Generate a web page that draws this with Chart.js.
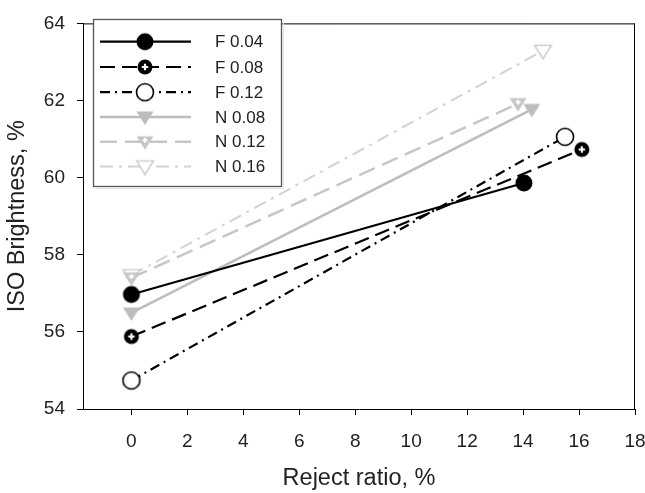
<!DOCTYPE html>
<html><head><meta charset="utf-8">
<script src="https://cdn.jsdelivr.net/npm/chart.js@4/dist/chart.umd.min.js"></script>
<style>html,body{margin:0;padding:0;overflow:hidden;background:#fff;width:645px;height:493px}canvas{display:block}</style>
</head><body>
<canvas id="c" width="700" height="493" style="width:700px;height:493px"></canvas>
<script>
// ---- data ----
const seriesNames = ['F 0.04', 'F 0.08', 'F 0.12', 'N 0.08', 'N 0.12', 'N 0.16'];
const f004X = [0, 14.03];  const f004Y = [56.97, 59.86];
const f008X = [0, 16.1];   const f008Y = [55.88, 60.73];
const f012X = [0, 15.5];   const f012Y = [54.74, 61.06];
const n008X = [0, 14.31];  const n008Y = [56.49, 61.77];
const n012X = [0, 13.82];  const n012Y = [57.40, 61.92];
const n016X = [0, 14.71];  const n016Y = [57.47, 63.29];
const xTicks = [0, 2, 4, 6, 8, 10, 12, 14, 16, 18];
const yTicks = [54, 56, 58, 60, 62, 64];
const xTitle = 'Reject ratio, %';
const yTitle = 'ISO Brightness, %';

// ---- marker images ----
function makeMarker(kind, color) {
  const s = 24, m = s / 2;
  const c = document.createElement('canvas');
  c.width = s; c.height = s;
  const g = c.getContext('2d');
  const tri = () => { g.beginPath(); g.moveTo(m - 8.5, m - 5.5); g.lineTo(m + 8.5, m - 5.5); g.lineTo(m, m + 8); g.closePath(); };
  const plus = (cx, cy, a, w) => { g.strokeStyle = '#fff'; g.lineWidth = w; g.beginPath(); g.moveTo(cx - a, cy); g.lineTo(cx + a, cy); g.moveTo(cx, cy - a); g.lineTo(cx, cy + a); g.stroke(); };
  if (kind === 'filledCircle') { g.fillStyle = color; g.beginPath(); g.arc(m, m, 8.5, 0, Math.PI * 2); g.fill(); }
  if (kind === 'plusCircle') { g.fillStyle = color; g.beginPath(); g.arc(m, m, 7.5, 0, Math.PI * 2); g.fill(); plus(m, m, 3.2, 2.2); }
  if (kind === 'openCircle') { g.fillStyle = '#fff'; g.strokeStyle = color; g.lineWidth = 1.6; g.beginPath(); g.arc(m, m, 8.5, 0, Math.PI * 2); g.fill(); g.stroke(); }
  if (kind === 'filledTri') { g.fillStyle = color; tri(); g.fill(); }
  if (kind === 'plusTri') { g.fillStyle = color; tri(); g.fill(); plus(m, m - 1.5, 2.5, 1.8); }
  if (kind === 'openTri') { g.fillStyle = '#fff'; g.strokeStyle = color; g.lineWidth = 1.6; tri(); g.fill(); g.stroke(); }
  return c;
}

const styles = [
  { color: '#000000', width: 2.2, dash: [], marker: makeMarker('filledCircle', '#000') },
  { color: '#000000', width: 2.2, dash: [15, 7], marker: makeMarker('plusCircle', '#000') },
  { color: '#000000', width: 2.2, dash: [10, 5, 2, 5], marker: makeMarker('openCircle', '#000') },
  { color: '#bdbdbd', width: 2.5, dash: [], marker: makeMarker('filledTri', '#bdbdbd') },
  { color: '#c6c6c6', width: 2.5, dash: [17, 8], marker: makeMarker('plusTri', '#c6c6c6') },
  { color: '#d2d2d2', width: 2.0, dash: [13, 6, 3, 6], marker: makeMarker('openTri', '#cfcfcf') }
];
const xs = [f004X, f008X, f012X, n008X, n012X, n016X];
const ys = [f004Y, f008Y, f012Y, n008Y, n012Y, n016Y];

const datasets = seriesNames.map((name, i) => ({
  label: name,
  data: xs[i].map((x, j) => ({ x: x, y: ys[i][j] })),
  showLine: true,
  borderColor: styles[i].color,
  backgroundColor: styles[i].color,
  borderWidth: styles[i].width,
  borderDash: styles[i].dash,
  pointStyle: styles[i].marker,
  pointRadius: 9,
  pointHoverRadius: 9,
  clip: false
}));

const FONT = "'Liberation Sans', Arial, sans-serif";

const frame = {
  id: 'frame',
  afterDatasetsDraw(chart) {
    const { ctx, chartArea: a } = chart;
    ctx.save();
    ctx.strokeStyle = '#000'; ctx.lineWidth = 1;
    ctx.beginPath();
    ctx.moveTo(a.left, a.top + 0.5); ctx.lineTo(a.right, a.top + 0.5);
    ctx.moveTo(a.right - 0.5, a.top); ctx.lineTo(a.right - 0.5, a.bottom);
    ctx.stroke();
    // legend
    const bx = 93, by = 19, bw = 188, bh = 167;
    ctx.fillStyle = '#fff';
    ctx.fillRect(bx, by, bw, bh);
    ctx.strokeStyle = '#555'; ctx.lineWidth = 1.3;
    ctx.strokeRect(bx + 0.5, by + 0.5, bw, bh);
    ctx.strokeStyle = '#e4e4e4'; ctx.lineWidth = 1;
    ctx.beginPath(); ctx.moveTo(bx + 3, by + bh + 2.5); ctx.lineTo(bx + bw + 2.5, by + bh + 2.5); ctx.lineTo(bx + bw + 2.5, by + 3); ctx.stroke();
    const rowY = [41.7, 67.0, 92.2, 117.0, 141.8, 166.5];
    chart.data.datasets.forEach((ds, i) => {
      const y = rowY[i];
      ctx.save();
      ctx.strokeStyle = ds.borderColor; ctx.lineWidth = ds.borderWidth;
      ctx.setLineDash(ds.borderDash);
      ctx.beginPath(); ctx.moveTo(100, y); ctx.lineTo(191, y); ctx.stroke();
      ctx.restore();
      const img = ds.pointStyle;
      ctx.drawImage(img, 145 - img.width / 2, y - img.height / 2);
      ctx.fillStyle = '#222';
      ctx.font = '17px ' + FONT;
      ctx.textBaseline = 'middle'; ctx.textAlign = 'left';
      ctx.fillText(ds.label, 215, y + 1);
    });
    ctx.restore();
  }
};

new Chart(document.getElementById('c'), {
  type: 'scatter',
  data: { datasets },
  options: {
    responsive: false,
    animation: false,
    events: [],
    layout: { padding: { left: 0, top: 15, right: 65, bottom: 0 } },
    plugins: { legend: { display: false }, tooltip: { enabled: false } },
    scales: {
      x: {
        type: 'linear', min: -1.73, max: 18,
        afterBuildTicks: s => { s.ticks = xTicks.map(v => ({ value: v })); },
        afterFit: s => { s.height = 84; },
        grid: { drawOnChartArea: false, drawTicks: true, tickLength: 6, color: '#000', lineWidth: 1 },
        border: { display: true, color: '#000', width: 1 },
        ticks: { color: '#222', font: { family: FONT, size: 19 }, padding: 15, maxRotation: 0, autoSkip: false },
        title: { display: true, text: xTitle, color: '#222', font: { family: FONT, size: 23.5 }, padding: { top: 0, bottom: 0 } }
      },
      y: {
        type: 'linear', min: 54, max: 64,
        afterBuildTicks: s => { s.ticks = yTicks.map(v => ({ value: v })); },
        afterFit: s => { s.width = 83; },
        grid: { drawOnChartArea: false, drawTicks: true, tickLength: 6, color: '#000', lineWidth: 1 },
        border: { display: true, color: '#000', width: 1 },
        ticks: { color: '#222', font: { family: FONT, size: 19 }, padding: 12, autoSkip: false },
        title: { display: true, text: yTitle, color: '#222', font: { family: FONT, size: 23.5 }, padding: { top: 3, bottom: 0 } }
      }
    }
  },
  plugins: [frame]
});
</script>
</body></html>
